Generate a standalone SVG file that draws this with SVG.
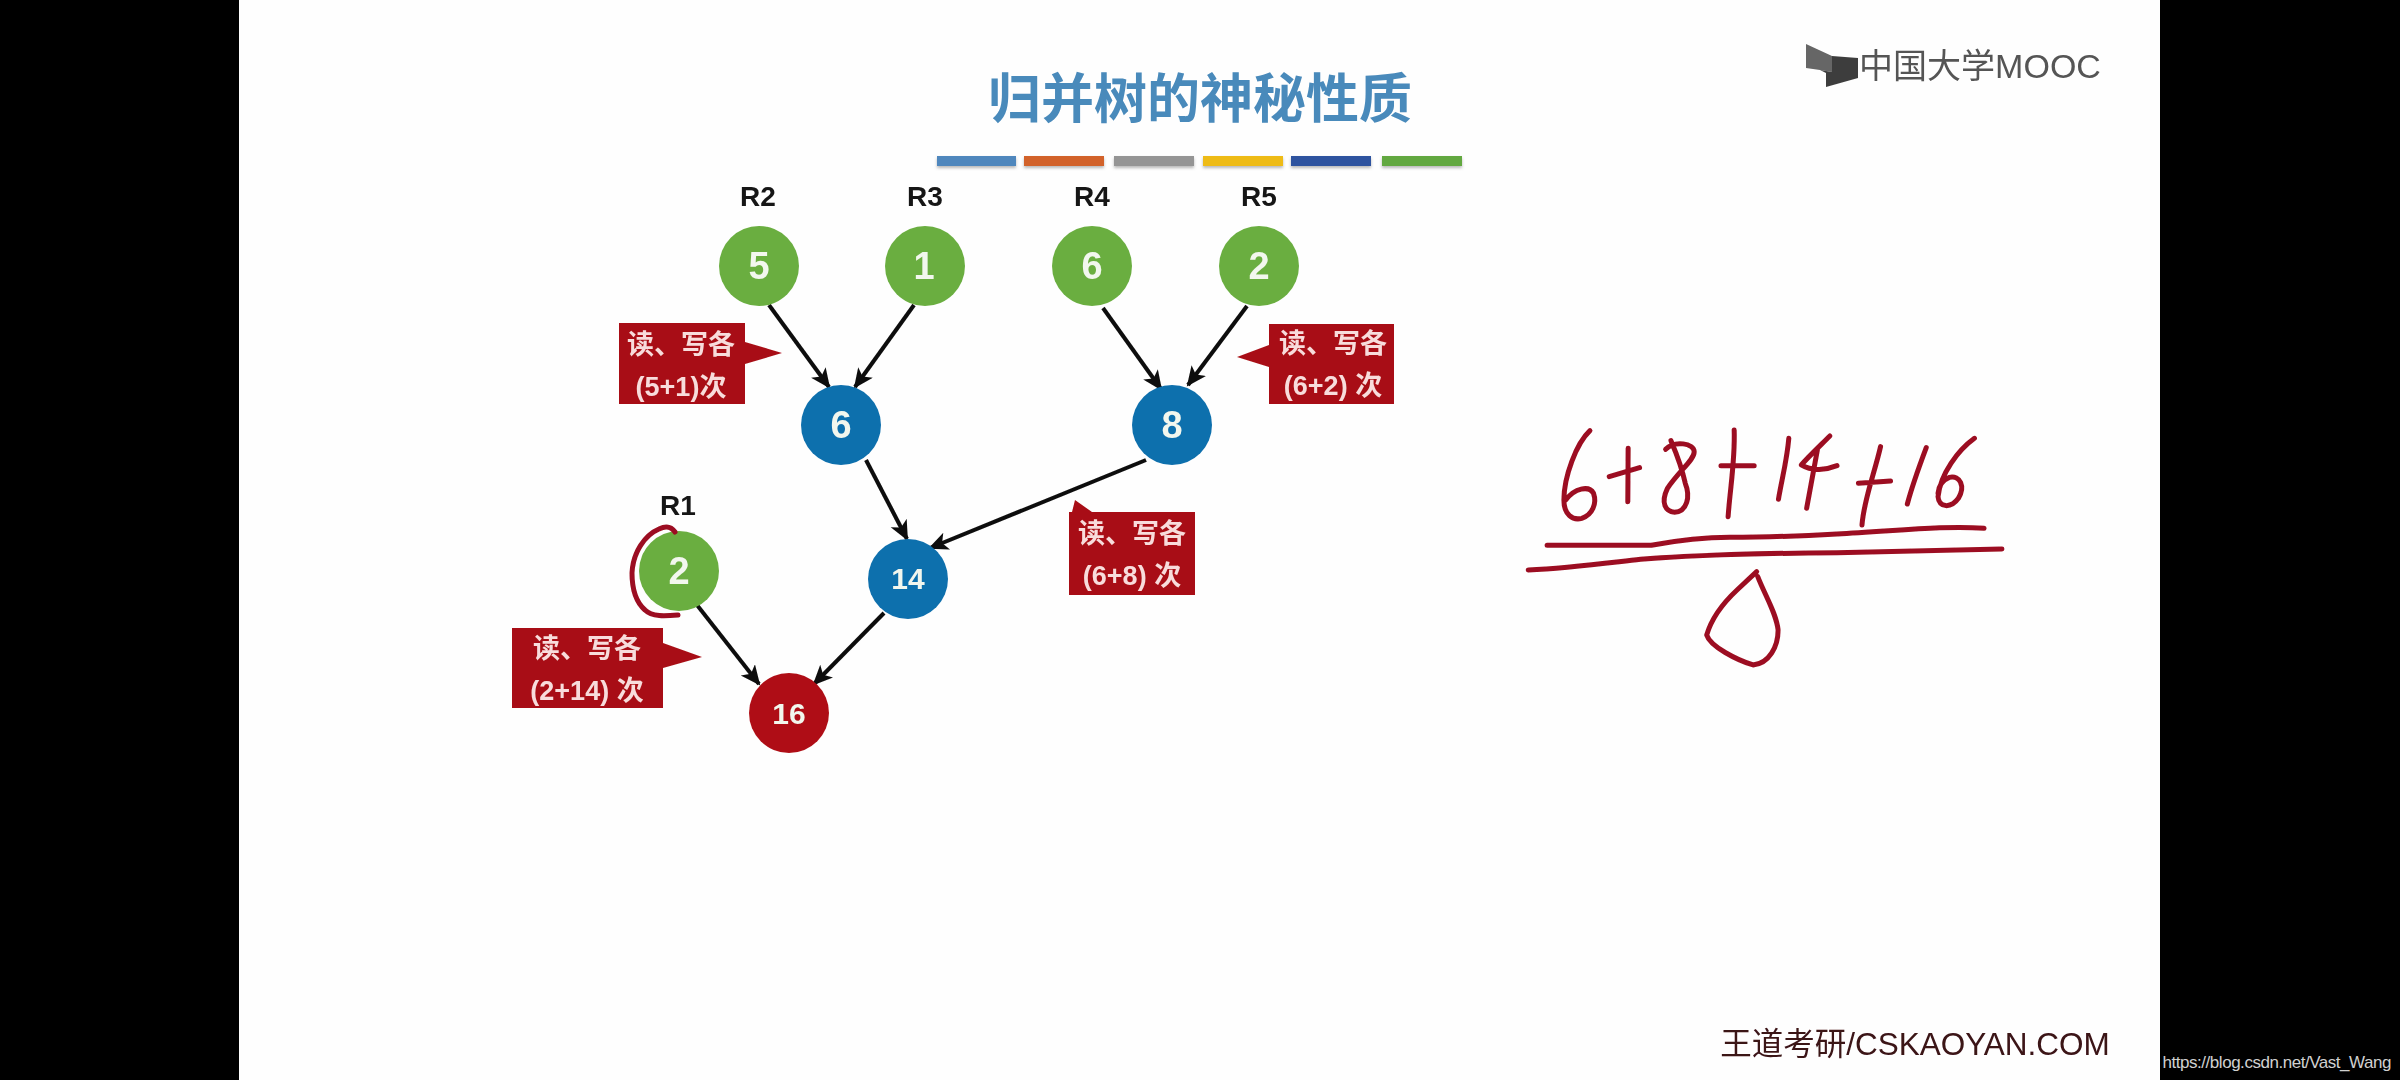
<svg xmlns="http://www.w3.org/2000/svg" width="2400" height="1080" viewBox="0 0 2400 1080">
<style>
.lat{font-family:"Liberation Sans",Arial,sans-serif}
.cjk{font-family:"Liberation Sans","Noto Sans CJK SC",sans-serif}
text{text-anchor:middle;dominant-baseline:central}
.rl{font-size:28px;font-weight:bold;fill:#141414}
.n1{font-size:38px;font-weight:bold;fill:#f2f7ee}
.n2{font-size:30px;font-weight:bold;fill:#f2f7ee}
.g{fill:#6bae41}
.b{fill:#0f6fad}
.r{fill:#af0f16}
.box{fill:#a80f14}
.ct{font-size:27px;font-weight:bold;fill:#f8dcdc}
.cn{stroke:#0c0c0c;stroke-width:4;fill:none;marker-end:url(#ah)}
.hw{fill:none;stroke:#9c1020;stroke-width:5;stroke-linecap:round;stroke-linejoin:round;vector-effect:non-scaling-stroke}
.sl{filter:url(#soft)}
.bar{filter:url(#shadow)}
</style>
<defs>
<marker id="ah" markerUnits="userSpaceOnUse" markerWidth="24" markerHeight="20" refX="18" refY="9" orient="auto"><path d="M0,0 L20,9 L0,18 L5,9z" fill="#0c0c0c"/></marker>
<filter id="soft" x="-2%" y="-2%" width="104%" height="104%"><feGaussianBlur stdDeviation="0.7"/></filter>
<filter id="shadow" x="-5%" y="-20%" width="110%" height="180%"><feDropShadow dx="0" dy="2" stdDeviation="1.5" flood-color="#888" flood-opacity="0.6"/></filter>
</defs>
<rect width="2400" height="1080" fill="#000"/>
<rect x="239" y="0" width="1921" height="1080" fill="#fefefe"/>
<g class="sl">
<g id="title">
<text class="cjk" x="1200" y="99" font-size="53" font-weight="700" fill="#4a8abb">归并树的神秘性质</text>
<rect class="bar" x="937" y="156" width="79" height="10" fill="#4f87bd"/>
<rect class="bar" x="1024" y="156" width="80" height="10" fill="#d2622a"/>
<rect class="bar" x="1114" y="156" width="80" height="10" fill="#959595"/>
<rect class="bar" x="1203" y="156" width="80" height="10" fill="#eebb12"/>
<rect class="bar" x="1291" y="156" width="80" height="10" fill="#2e539f"/>
<rect class="bar" x="1382" y="156" width="80" height="10" fill="#62a83f"/>
</g>
<g id="logo">
<path d="M1806,44 L1832,56 L1832,72 L1820,70 L1806,68z" fill="#666"/>
<path d="M1820,70 L1832,72 L1832,56 L1858,58 L1858,78 L1826,87 L1826,73z" fill="#3e3e3e"/>
<text class="cjk" x="1980" y="66" font-size="34" fill="#555">中国大学MOOC</text>
</g>
<g id="connectors">
<path class="cn" d="M769,305 L829,387"/>
<path class="cn" d="M914,305 L855,387"/>
<path class="cn" d="M1103,308 L1161,389"/>
<path class="cn" d="M1247,306 L1188,385"/>
<path class="cn" d="M866,460 L907,539"/>
<path class="cn" d="M1146,460 L930,548"/>
<path class="cn" d="M697,605 L759,684"/>
<path class="cn" d="M884,613 L814,684"/>
</g>
<g id="callout-a">
<path class="box" d="M619,323 H745 V342 L782,353 L745,364 V404 H619z"/>
<text class="ct cjk" x="681" y="345">读、写各</text>
<text class="ct cjk" x="681" y="387">(5+1)次</text>
</g>
<g id="callout-b">
<path class="box" d="M1269,324 H1394 V404 H1269 V367 L1237,357 L1269,345z"/>
<text class="ct cjk" x="1333" y="344">读、写各</text>
<text class="ct cjk" x="1333" y="386">(6+2) 次</text>
</g>
<g id="callout-c">
<path class="box" d="M1069,512 H1072 L1075,500 L1092,512 H1195 V595 H1069z"/>
<text class="ct cjk" x="1132" y="534">读、写各</text>
<text class="ct cjk" x="1132" y="576">(6+8) 次</text>
</g>
<g id="callout-d">
<path class="box" d="M512,628 H663 V643 L702,657 L663,668 V708 H512z"/>
<text class="ct cjk" x="587" y="649">读、写各</text>
<text class="ct cjk" x="587" y="691">(2+14) 次</text>
</g>
<g id="n-r2"><text class="rl lat" x="758" y="196">R2</text><circle class="g" cx="759" cy="266" r="40"/><text class="n1 lat" x="759" y="266">5</text></g>
<g id="n-r3"><text class="rl lat" x="925" y="196">R3</text><circle class="g" cx="925" cy="266" r="40"/><text class="n1 lat" x="924" y="266">1</text></g>
<g id="n-r4"><text class="rl lat" x="1092" y="196">R4</text><circle class="g" cx="1092" cy="266" r="40"/><text class="n1 lat" x="1092" y="266">6</text></g>
<g id="n-r5"><text class="rl lat" x="1259" y="196">R5</text><circle class="g" cx="1259" cy="266" r="40"/><text class="n1 lat" x="1259" y="266">2</text></g>
<g id="n-6"><circle class="b" cx="841" cy="425" r="40"/><text class="n1 lat" x="841" y="425">6</text></g>
<g id="n-8"><circle class="b" cx="1172" cy="425" r="40"/><text class="n1 lat" x="1172" y="425">8</text></g>
<g id="n-14"><circle class="b" cx="908" cy="579" r="40"/><text class="n2 lat" x="908" y="578">14</text></g>
<g id="n-r1"><text class="rl lat" x="678" y="505">R1</text><circle class="g" cx="679" cy="571" r="40"/><text class="n1 lat" x="679" y="571">2</text></g>
<g id="n-16"><circle class="r" cx="789" cy="713" r="40"/><text class="n2 lat" x="789" y="713">16</text></g>
<path id="ink-r1" class="hw" d="M675,532 C671,526 665,526 659,529 C645,535 633,552 632,573 C632,590 637,603 645,610 C652,617 665,616 678,615"/>
<g id="ink" transform="translate(1480,400) scale(0.357,0.3333)">
<path class="hw" d="M308,92 C270,130 235,230 235,300 C235,345 260,362 285,355 C315,345 328,310 318,280 C305,255 265,265 240,300"/>
<path class="hw" d="M362,230 L447,203 M415,145 L414,305"/>
<path class="hw" d="M520,148 C545,120 600,130 600,155 C600,180 560,210 525,265 C505,310 520,335 545,337 C580,335 590,290 575,250 C565,200 550,160 535,122"/>
<path class="hw" d="M675,197 L768,197 M712,90 C715,180 700,270 695,350"/>
<path class="hw" d="M865,115 C860,180 845,240 836,298"/>
<path class="hw" d="M980,108 C950,140 920,170 900,195 C930,215 970,210 1000,197 M945,150 L915,325"/>
<path class="hw" d="M1060,250 L1150,243 M1122,140 C1105,220 1075,300 1070,375"/>
<path class="hw" d="M1250,143 C1230,200 1210,260 1197,312"/>
<path class="hw" d="M1385,115 C1340,150 1290,220 1283,290 C1285,325 1320,325 1340,295 C1360,260 1345,225 1315,232 C1295,240 1285,260 1283,280"/>
<path class="hw" d="M188,436 L480,436 C560,420 620,412 700,412 C820,412 900,408 1000,402 C1150,395 1300,375 1412,385"/>
<path class="hw" d="M135,510 C250,505 350,490 450,478 C600,465 800,460 1000,458 L1462,447"/>
<path class="hw" d="M775,515 L720,570 C680,610 650,650 635,705 C645,740 720,780 765,795 C810,790 835,740 835,690 C830,640 800,590 778,530"/>
</g>
<text class="cjk" x="1915" y="1044" font-size="31.5" fill="#3a1216">王道考研/CSKAOYAN.COM</text>
</g>
<text class="lat" x="2277" y="1062" font-size="17" fill="#d0d0d0" textLength="229">https://blog.csdn.net/Vast_Wang</text>
</svg>
